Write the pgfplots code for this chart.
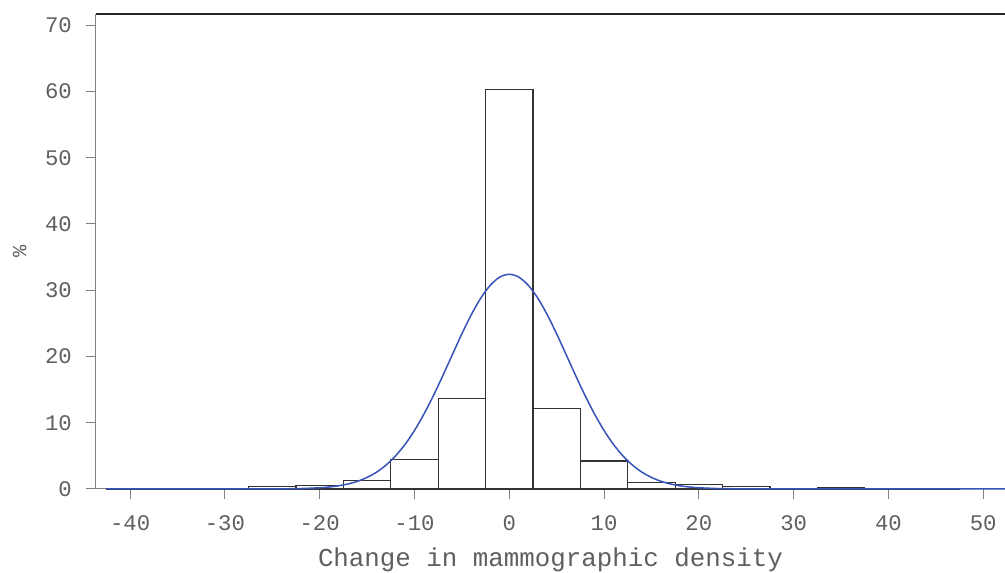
\documentclass[border=0pt]{standalone}
\usepackage{fontspec}
\setmainfont{Liberation Mono}
\usepackage{pgfplots}
\pgfplotsset{compat=1.18}
\definecolor{txtgray}{RGB}{95,95,95}
\definecolor{axgray}{RGB}{130,130,130}
\definecolor{curveblue}{RGB}{55,85,185}

\begin{document}
\begin{tikzpicture}
\begin{axis}[
  scale only axis,
  width=359pt, height=187.6pt,
  xmin=-43.6, xmax=52.3, ymin=0, ymax=71.7,
  axis x line=bottom, axis y line=left,
  axis line style={axgray, -},
  xtick={-40,-30,...,50}, ytick={0,10,...,70},
  tick align=outside, major tick length=4pt,
  tick style={axgray, thin},
  /pgf/number format/assume math mode=true,
  tick label style={font=\fontsize{8.8}{10}\selectfont, text=txtgray},
  xticklabel style={yshift=-3pt},
  yticklabel style={xshift=-2pt},
  xlabel={Change in mammographic density},
  ylabel={\%},
  label style={font=\fontsize{10.2}{11}\selectfont, text=txtgray},
  xlabel style={yshift=0.3pt},
  ylabel style={yshift=0.5pt, font=\fontsize{8}{9}\selectfont},
  clip=false,
]
\addplot[ybar interval, draw=black!80, fill=white, line width=0.5pt] coordinates {
  (-42.5,0.05)(-37.5,0.05)(-32.5,0.1)(-27.5,0.35)(-22.5,0.5)(-17.5,1.26)
  (-12.5,4.48)(-7.5,13.7)(-2.5,60.3)(2.5,12.1)(7.5,4.2)(12.5,1.0)
  (17.5,0.65)(22.5,0.35)(27.5,0.02)(32.5,0.2)(37.5,0.05)(42.5,0.05)(47.5,0.05)};
\addplot[curveblue, line width=0.6pt, smooth] coordinates {
  (-42.5,0)(-28,0)(-26,0.005)(-24,0.018)(-22,0.06)(-20,0.178)(-19,0.296)(-18,0.479)
  (-17,0.755)(-16,1.16)(-15,1.74)(-14,2.53)(-13,3.60)(-12,4.98)(-11,6.71)
  (-10,8.82)(-9,11.30)(-8,14.09)(-7,17.13)(-6,20.28)(-5,23.41)(-4,26.31)
  (-3,28.82)(-2,30.75)(-1,31.98)(0,32.4)(1,31.98)(2,30.75)(3,28.82)
  (4,26.31)(5,23.41)(6,20.28)(7,17.13)(8,14.09)(9,11.30)(10,8.82)
  (11,6.71)(12,4.98)(13,3.60)(14,2.53)(15,1.74)(16,1.16)(17,0.755)
  (18,0.479)(19,0.296)(20,0.178)(22,0.06)(24,0.018)(26,0.005)(28,0)(52.3,0)};
\draw[black!85, line width=0.6pt] (rel axis cs:0,1) -- (rel axis cs:1,1);
\end{axis}
\pgfresetboundingbox
\path (current axis.south west) ++(-37.9pt,-32.8pt) coordinate (bbsw);
\path (current axis.north east) ++(0pt,5.5pt) coordinate (bbne);
\useasboundingbox (bbsw) rectangle (bbne);
\end{tikzpicture}
\end{document}
